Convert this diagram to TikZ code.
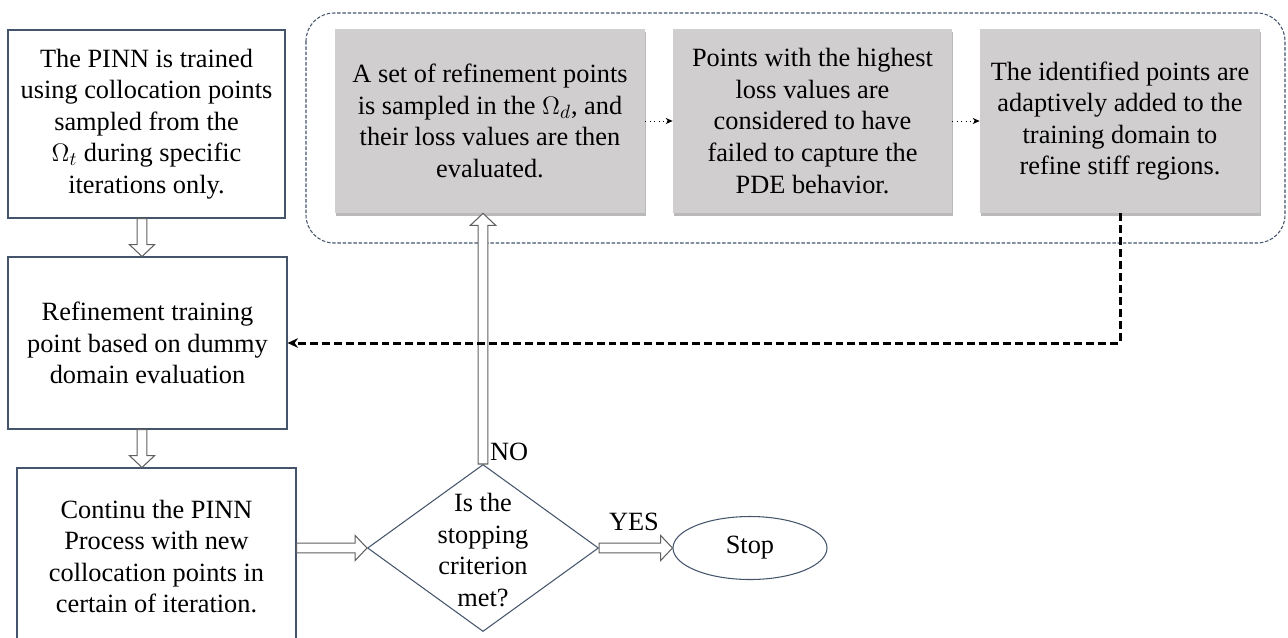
\documentclass[tikz,border=0pt]{standalone}
\usepackage{fontspec}
\setmainfont{Liberation Serif}
\usetikzlibrary{shapes.geometric,arrows.meta,calc,shadows}

\definecolor{boxline}{RGB}{68,84,106}
\definecolor{stepgray}{RGB}{208,206,206}

\begin{document}
\begin{tikzpicture}[
    x=0.02cm, y=-0.02cm,
    % --- Styles ---
    every node/.style={font=\fontsize{15}{18}\selectfont, align=center},
    % White boxes of the main flow
    flow box/.style={draw=boxline, line width=0.6pt, fill=white, inner sep=0pt},
    % Grey boxes inside the dashed frame, with a soft shadow
    gray box/.style={fill=stepgray, inner sep=0pt,
        drop shadow={shadow xshift=0.6pt, shadow yshift=-1.6pt, opacity=0.45, fill=black!60}},
    decision/.style={draw=boxline, line width=0.6pt, diamond, inner sep=0pt, aspect=1.38},
    stop node/.style={draw=boxline, line width=0.6pt, ellipse, inner sep=0pt},
    frame line/.style={draw=boxline, line width=0.6pt, dash pattern=on 2pt off 1pt, rounded corners=28*0.02cm},
    small arrow/.style={line width=0.5pt, dotted, -{Stealth[length=4pt,width=3.5pt]}},
    back line/.style={line width=1.7pt, dash pattern=on 4.5pt off 2.3pt, -{Stealth[length=6pt,width=5.5pt]}},
    % Hollow block arrow built along the connector
    hollow arrow/.style={draw=gray!75!black, fill=white, line width=0.6pt,
        to path={let \p1=(\tikztostart), \p2=(\tikztotarget),
            \n1={veclen(\x2-\x1,\y2-\y1)}, \n2={atan2(\y2-\y1,\x2-\x1)} in
            [shift={(\p1)}, rotate=\n2]
            (0pt,-2.8pt) -- ({\n1-6.8pt},-2.8pt) -- ({\n1-6.8pt},-7.2pt) -- (\n1,0pt)
            -- ({\n1-6.8pt},7.2pt) -- ({\n1-6.8pt},2.8pt) -- (0pt,2.8pt) -- cycle}}
]

%================CONFIGURATION================
% one unit = one pixel of the 1288 x 637 layout
\def\px{0.02cm}
%=============================================

\useasboundingbox (0,0) rectangle (1288,637);

% --- 1. Dashed frame round the refinement steps ---
\draw[frame line] (306,13) rectangle (1285,243);

% --- 2. Left column ---
\node[flow box, minimum width=277*\px, minimum height=188*\px] (trainBox) at (146.5,124)
    {The PINN is trained\\ using collocation points\\ sampled from the\\ $\Omega_t$ during specific\\ iterations only.};
\node[flow box, minimum width=279*\px, minimum height=172*\px] (refineBox) at (147.5,343)
    {Refinement training\\ point based on dummy\\ domain evaluation};
\node[flow box, minimum width=279*\px, minimum height=177*\px] (continueBox) at (156.5,556.5)
    {Continu the PINN\\ Process with new\\ collocation points in\\ certain of iteration.};

% --- 3. Refinement steps ---
\node[gray box, minimum width=310*\px, minimum height=184*\px] (sampleBox) at (490,121)
    {A set of refinement points\\ is sampled in the $\Omega_d$, and\\ their loss values are then\\ evaluated.};
\node[gray box, minimum width=279*\px, minimum height=184*\px] (lossBox) at (812.5,121)
    {Points with the highest\\ loss values are\\ considered to have\\ failed to capture the\\ PDE behavior.};
\node[gray box, minimum width=280*\px, minimum height=184*\px] (addBox) at (1120,121)
    {The identified points are\\ adaptively added to the\\ training domain to\\ refine stiff regions.};

% --- 4. Decision and end ---
\node[decision, minimum width=231*\px, minimum height=167*\px] (check) at (483,548) {};
\node (checkText) at (483,550) {Is the\\ stopping\\ criterion\\ met?};
\node[stop node, minimum width=154*\px, minimum height=63*\px] (stop) at (750,548) {Stop};

% --- 5. Connectors ---
\draw[hollow arrow] (trainBox.south -| 142,0) to (refineBox.north -| 142,0);
\draw[hollow arrow] (refineBox.south -| 142,0) to (continueBox.north -| 142,0);
\draw[hollow arrow] (continueBox.east |- check.west) to (check.west);
\draw[hollow arrow] (check.east) to (stop.west);
\draw[hollow arrow] (check.north) to (check.north |- sampleBox.south);

\draw[small arrow] (sampleBox.east) -- (lossBox.west);
\draw[small arrow] (lossBox.east) -- (addBox.west);

\draw[back line] (addBox.south) |- (refineBox.east);

% Branch labels
\node[anchor=west, inner sep=1pt] (noLabel) at (488,452) {NO};
\node (yesLabel) at (634,522) {YES};

\end{tikzpicture}
\end{document}
